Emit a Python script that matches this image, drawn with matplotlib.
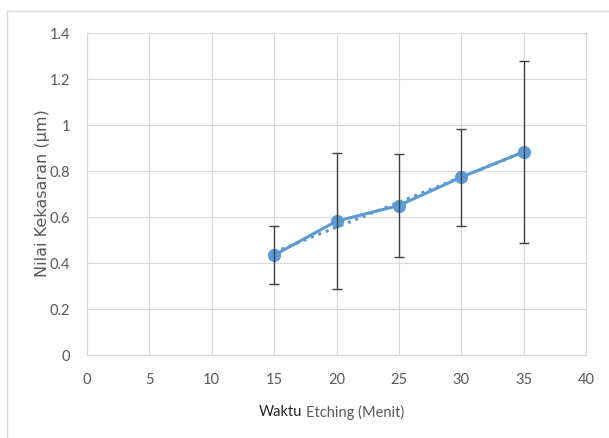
import numpy as np
import matplotlib
matplotlib.use("Agg")
import matplotlib.pyplot as plt
from matplotlib.lines import Line2D

# data
waktu = [15, 20, 25, 30, 35]
kekasaran = [0.434, 0.582, 0.650, 0.773, 0.883]
err = [0.125, 0.296, 0.225, 0.210, 0.395]
x_ticks = [0, 5, 10, 15, 20, 25, 30, 35, 40]
y_ticks = [0, 0.2, 0.4, 0.6, 0.8, 1.0, 1.2, 1.4]
y_ticklabels = ["0", "0.2", "0.4", "0.6", "0.8", "1", "1.2", "1.4"]

blue = "#5B9BD5"
grid = "#D9D9D9"
txt = "#595959"

fig = plt.figure(figsize=(6.09, 4.39), dpi=100)
ax = fig.add_axes([87 / 609, 83 / 439, 499 / 609, 322 / 439])

ax.set_xlim(0, 40)
ax.set_ylim(0, 1.4)
ax.set_xticks(x_ticks)
ax.set_yticks(y_ticks)
ax.set_yticklabels(y_ticklabels)
ax.grid(True, color=grid, lw=0.8)
ax.set_axisbelow(True)
for s in ax.spines.values():
    s.set_color(grid)
    s.set_linewidth(0.8)
ax.tick_params(length=0, labelsize=10.5, labelcolor=txt, pad=12)
for lab in ax.get_xticklabels() + ax.get_yticklabels():
    lab.set_family("Lato")

# linear trendline (dotted) behind the series
k, b = np.polyfit(waktu, kekasaran, 1)
xs = np.array([waktu[0], waktu[-1]])
ax.plot(xs, k * xs + b, color=blue, lw=2.2, ls=(0, (1, 1.6)), zorder=2)

ax.plot(waktu, kekasaran, color=blue, lw=2.2, marker="o", ms=8.5, zorder=3)
ax.errorbar(waktu, kekasaran, yerr=err, fmt="none", ecolor="#404040",
            elinewidth=1.0, capsize=3.6, capthick=1.0, zorder=4)

# y label
fig.text(43 / 609, 1 - 193 / 439, "Nilai Kekasaran (\u00b5m)", rotation=90,
         ha="center", va="center", family=["DejaVu Sans"], fontsize=11.5,
         color=txt)

# x label: "Waktu" darker than the rest
fig.text(302 / 609, 1 - 412 / 439, "Waktu", family="Lato", fontsize=10.5,
         color="#262626", ha="right", va="center")
fig.text(306 / 609, 1 - 412 / 439, "Etching (Menit)", family="Lato",
         fontsize=10.5, color=txt, ha="left", va="center")

# chart area frame (top and left visible)
fig.add_artist(Line2D([7 / 609, 1], [1 - 12 / 439, 1 - 12 / 439], color=grid, lw=1))
fig.add_artist(Line2D([7 / 609, 7 / 609], [0, 1 - 12 / 439], color=grid, lw=1))

fig.savefig("out.png", dpi=100)
